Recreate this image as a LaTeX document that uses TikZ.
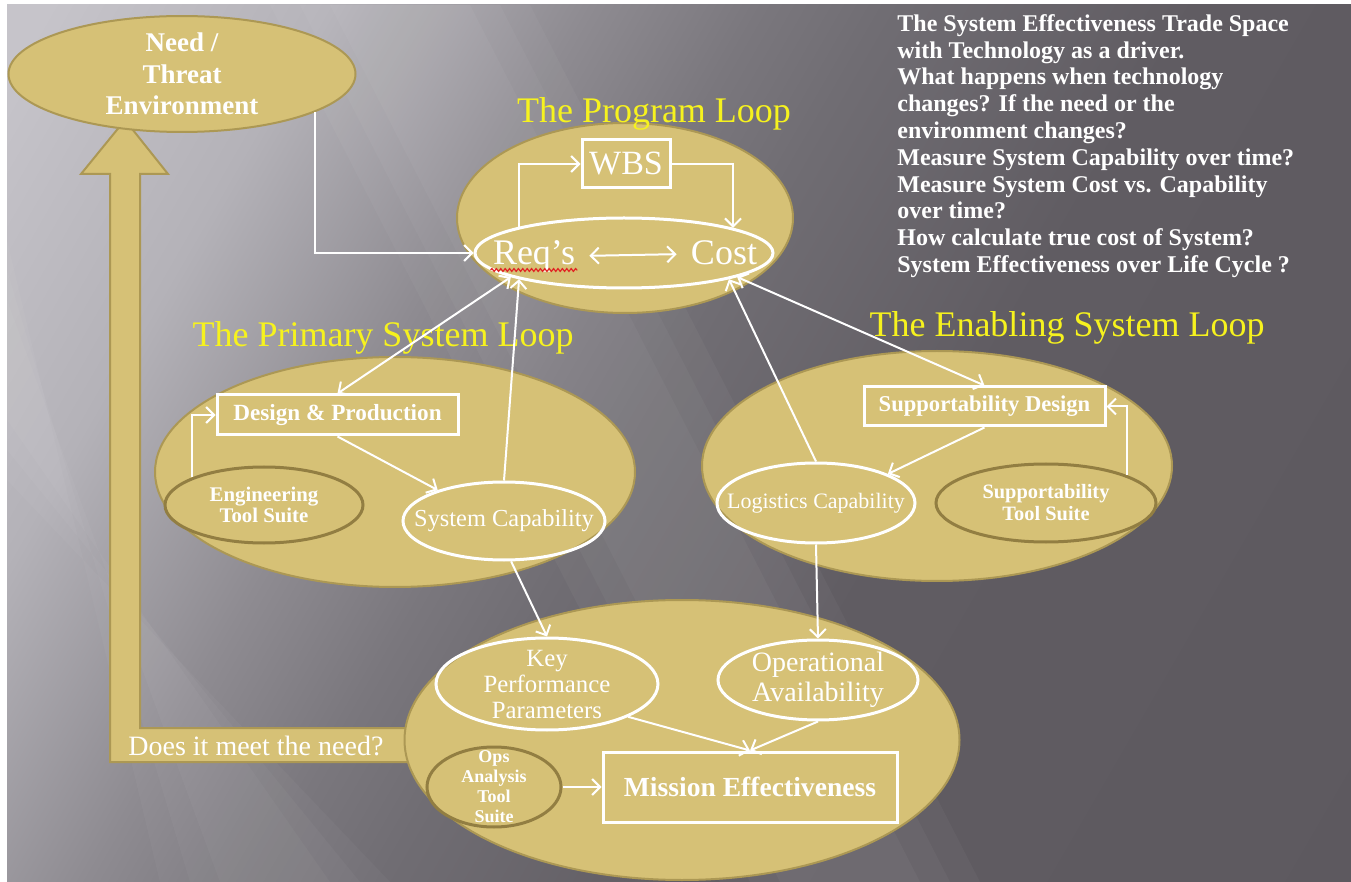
\documentclass[tikz,border=0pt]{standalone}
\usepackage{fontspec}
\setmainfont{Liberation Serif}
\usetikzlibrary{arrows.meta,shapes.geometric,decorations.pathmorphing}

\definecolor{gold}{RGB}{214,193,118}
\definecolor{golddark}{RGB}{172,152,84}
\definecolor{tooledge}{RGB}{146,126,66}
\definecolor{titleyellow}{RGB}{246,242,30}
\definecolor{spellred}{RGB}{225,35,35}
% slide greys, light to dark
\definecolor{bga}{RGB}{198,196,202}
\definecolor{bgb}{RGB}{180,178,184}
\definecolor{bgc}{RGB}{142,139,145}
\definecolor{bgd}{RGB}{122,119,125}
\definecolor{bge}{RGB}{112,109,115}
\definecolor{bgf}{RGB}{96,92,98}
\definecolor{bgg}{RGB}{90,86,92}

\pgfdeclarehorizontalshading{slide}{100bp}{color(0bp)=(bga); color(17bp)=(bga);
  color(26bp)=(bgb); color(34.5bp)=(bgc); color(40bp)=(bgd); color(44bp)=(bge);
  color(54bp)=(bgf); color(100bp)=(bgg)}

\newcommand{\fsz}[2]{\fontsize{#1}{#2}\selectfont}

\begin{document}
\begin{tikzpicture}[x=0.5pt, y=-0.5pt,
  loop/.style={ellipse, draw=golddark, line width=1pt, fill=gold, inner sep=0pt},
  tool/.style={ellipse, draw=tooledge, line width=1.5pt, fill=gold, inner sep=-40pt,
               text=white, align=center},
  oval/.style={ellipse, draw=white, line width=1.5pt, inner sep=-40pt, text=white, align=center},
  box/.style={rectangle, draw=white, line width=1.5pt, inner sep=0pt, text=white, align=center},
  title/.style={text=titleyellow, font=\fsz{18}{20}, inner sep=0pt, anchor=base},
  tip/.tip={Straight Barb[length=4pt, width=8pt]},
  arr/.style={draw=white, line width=1pt, -tip},
  arr2/.style={draw=white, line width=1pt, tip-tip}]

  % slide background
  \useasboundingbox (0,0) rectangle (1351,882);
  \fill[white] (0,0) rectangle (1351,882);
  \begin{scope}
    \clip (7,5) rectangle (1351,882);
    \shade[shading=slide, shading angle=-30] (7,5) rectangle (1358,1356);
    \foreach \w in {0,30,60} {
      \fill[white, opacity=0.035] (330-\w,5) -- (470+\w,5) -- (920+\w,882) -- (780-\w,882) -- cycle;
      \fill[white, opacity=0.03] (7,300-\w) -- (7,420+\w) -- (330+\w,882) -- (220-\w,882) -- cycle;
    }
  \end{scope}

  % feedback arrow back up to the need
  \path[fill=gold, draw=golddark, line width=1pt] (125,120) -- (168,174) -- (140,174)
    -- (140,728) -- (440,728) -- (440,762) -- (110,762) -- (110,174) -- (81,174) -- cycle;
  \node[anchor=base west, text=white, font=\fsz{14}{16}, inner sep=0pt] (meet) at (128,755)
    {Does it meet the need?};

  \node[loop, minimum width=173.5pt, minimum height=50pt, text=white, align=center,
        font=\fsz{13.5}{15.75}\bfseries] (need) at (182,74) {Need /\\Threat\\Environment};

  % the four loops
  \node[loop, minimum width=168pt, minimum height=95pt] (prog) at (625,218) {};
  \node[loop, minimum width=240pt, minimum height=115pt] (prim) at (395,472) {};
  \node[loop, minimum width=235pt, minimum height=115pt] (enab) at (937,466) {};
  \node[loop, minimum width=277.5pt, minimum height=140pt] (miss) at (682,740) {};

  \node[title] (progtitle) at (654,123) {The Program Loop};
  \node[title] (primtitle) at (383,347) {The Primary System Loop};
  \node[title] (enabtitle) at (1067,337) {The Enabling System Loop};

  \node[anchor=north west, inner sep=0pt, text=white, align=left, font=\fsz{12}{13.4}\bfseries]
    (notes) at (897,14)
    {The System Effectiveness Trade Space\\
     with Technology as a driver.\\
     What happens when technology\\
     changes? If the need or the\\
     environment changes?\\
     Measure System Capability over time?\\
     Measure System Cost vs. Capability\\
     over time?\\
     How calculate true cost of System?\\
     System Effectiveness over Life Cycle ?};

  % program loop
  \node[oval, minimum width=149pt, minimum height=35pt] (reqcost) at (624,253) {};
  \node[anchor=base, text=white, font=\fsz{18}{20}, inner sep=1pt] (reqs) at (534,265) {Req's};
  \node[anchor=base, text=white, font=\fsz{18}{20}, inner sep=1pt] (cost) at (724,265) {Cost};
  \node[box, minimum width=44pt, minimum height=24pt, font=\fsz{17}{19}] (wbs) at (626,164) {WBS};
  \draw[spellred, line width=0.6pt, decorate, decoration={snake, amplitude=0.7pt, segment length=2.2pt}]
    ([yshift=-2.5pt]reqs.base west) -- ([yshift=-2.5pt]reqs.base east);

  % primary system loop
  \node[box, minimum width=120.5pt, minimum height=20pt, font=\fsz{11.6}{13}\bfseries]
    (design) at (337.5,415) {Design \& Production};
  \node[tool, minimum width=99pt, minimum height=38pt, font=\fsz{10.4}{10.9}\bfseries]
    (engtool) at (264,505) {Engineering\\Tool Suite};
  \node[oval, minimum width=101pt, minimum height=39pt, font=\fsz{12.2}{13}]
    (syscap) at (504,521) {System Capability};

  % enabling system loop
  \node[box, minimum width=120.5pt, minimum height=19.5pt, font=\fsz{11.3}{13}\bfseries]
    (suppdes) at (984.5,406.5) {Supportability Design};
  \node[oval, minimum width=99pt, minimum height=40pt, font=\fsz{11}{12}]
    (logcap) at (816,503) {Logistics Capability};
  \node[tool, minimum width=110pt, minimum height=39pt, font=\fsz{10.2}{11}\bfseries]
    (supptool) at (1046,503) {Supportability\\Tool Suite};

  % mission loop
  \node[oval, minimum width=111pt, minimum height=46pt, font=\fsz{12.4}{13}]
    (kpp) at (547,684) {Key\\Performance\\Parameters};
  \node[oval, minimum width=100pt, minimum height=40pt, font=\fsz{14}{15}]
    (oa) at (818,680) {Operational\\Availability};
  \node[box, minimum width=147pt, minimum height=35pt, font=\fsz{13.8}{15}\bfseries]
    (me) at (750,787) {Mission Effectiveness};
  \node[tool, minimum width=67pt, minimum height=40pt, font=\fsz{9}{10}\bfseries]
    (opstool) at (494,787) {Ops\\Analysis\\Tool\\Suite};

  % connectors
  \draw[arr] (need.-16) |- (reqcost.west);
  \draw[arr] (reqcost.166) |- (wbs.west);
  \draw[arr] (wbs.east) -| (reqcost.13.5);
  \draw[arr2, shorten <=6pt, shorten >=6pt] (reqs) -- (cost);
  \draw[arr2] (design.north) -- (reqcost.192);
  \draw[arr] (syscap.north) -- (reqcost.194);
  \draw[arr] (engtool.159) |- (design.west);
  \draw[arr] (design.south) -- (syscap.155);
  \draw[arr] (syscap.-80) -- (kpp.north);
  \draw[arr2] (reqcost.-12) -- (suppdes.north);
  \draw[arr] (logcap.north) -- (reqcost.-14);
  \draw[arr] (supptool.19) |- (suppdes.east);
  \draw[arr] (suppdes.south) -- (logcap.22);
  \draw[arr] (logcap.south) -- (oa.north);
  \draw[arr] (kpp.-22) -- (me.north);
  \draw[arr] (oa.south) -- (me.north);
  \draw[arr] (opstool.east) -- (me.west);
\end{tikzpicture}
\end{document}
